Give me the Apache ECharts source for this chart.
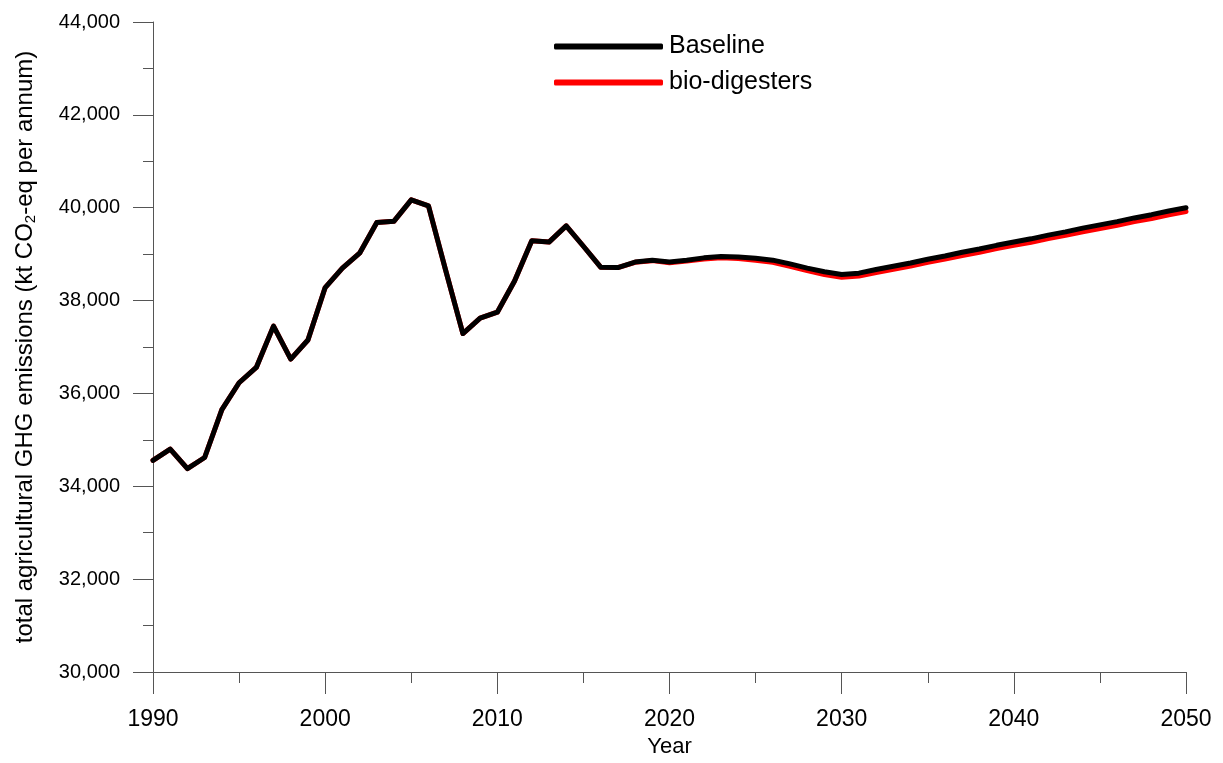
<!DOCTYPE html>
<html>
<head>
<meta charset="utf-8">
<script src="https://cdn.jsdelivr.net/npm/echarts@6/dist/echarts.min.js"></script>
<style>
html,body{margin:0;padding:0;background:#fff;}
#chart{width:1223px;height:763px;}
</style>
</head>
<body>
<div id="chart"></div>
<script>
const years = [1990,1991,1992,1993,1994,1995,1996,1997,1998,1999,2000,2001,2002,2003,2004,2005,2006,2007,2008,2009,2010,2011,2012,2013,2014,2015,2016,2017,2018,2019,2020,2021,2022,2023,2024,2025,2026,2027,2028,2029,2030,2031,2032,2033,2034,2035,2036,2037,2038,2039,2040,2041,2042,2043,2044,2045,2046,2047,2048,2049,2050];
const baseline = [34560,34800,34380,34620,35650,36230,36560,37450,36740,37150,38280,38700,39020,39680,39710,40170,40040,38650,37290,37620,37750,38420,39290,39260,39610,39170,38720,38710,38830,38870,38830,38870,38920,38950,38940,38910,38870,38790,38700,38620,38560,38590,38670,38740,38810,38890,38960,39040,39110,39190,39260,39330,39410,39480,39560,39630,39700,39780,39850,39930,40000];
const biodigesters = [34560,34800,34380,34620,35650,36230,36560,37450,36740,37150,38280,38700,39020,39680,39710,40170,40040,38650,37290,37620,37750,38420,39290,39260,39610,39170,38720,38710,38825,38860,38815,38850,38895,38920,38905,38870,38825,38740,38645,38562,38500,38528,38606,38675,38744,38823,38892,38971,39040,39119,39188,39257,39336,39404,39483,39552,39621,39700,39768,39847,39920];
const seriesNames = ['Baseline', 'bio-digesters'];
const yTitleStart = 'total agricultural GHG emissions (kt CO';
const yTitleSub = '2';
const yTitleEnd = '-eq per annum)';
const xTitle = 'Year';

const chart = echarts.init(document.getElementById('chart'));
const fontFamily = 'Liberation Sans, Arial, sans-serif';
const axisColor = '#555';
chart.setOption({
  animation: false,
  backgroundColor: '#fff',
  textStyle: {fontFamily: fontFamily, color: '#000'},
  grid: {left: 153, right: 37, top: 22, bottom: 85, containLabel: false},
  legend: {
    orient: 'vertical',
    left: 549,
    top: 29,
    data: seriesNames,
    icon: 'roundRect',
    itemWidth: 109,
    itemHeight: 6,
    itemGap: 11,
    textStyle: {fontSize: 25, color: '#000', fontFamily: fontFamily, padding: [0, 0, 0, 1]}
  },
  xAxis: {
    type: 'value',
    min: 1990, max: 2050, interval: 10,
    name: xTitle,
    nameLocation: 'middle',
    nameGap: 64,
    nameTextStyle: {fontSize: 22, color: '#000', fontFamily: fontFamily},
    axisLine: {show: true, lineStyle: {color: axisColor, width: 1}},
    axisTick: {show: true, inside: false, length: 22, lineStyle: {color: axisColor}},
    minorTick: {show: true, splitNumber: 2, length: 11, lineStyle: {color: axisColor}},
    splitLine: {show: false},
    axisLabel: {fontSize: 23, color: '#000', margin: 36, fontFamily: fontFamily,
      formatter: function (v) { return String(v); }}
  },
  yAxis: {
    type: 'value',
    min: 30000, max: 44000, interval: 2000,
    name: '{t|' + yTitleStart + '}{s|' + yTitleSub + '}{t|' + yTitleEnd + '}',
    nameLocation: 'middle',
    nameRotate: 90,
    nameGap: 115,
    nameTextStyle: {
      fontSize: 24, color: '#000', fontFamily: fontFamily,
      rich: {
        t: {fontSize: 24, color: '#000', fontFamily: fontFamily},
        s: {fontSize: 15, color: '#000', fontFamily: fontFamily, verticalAlign: 'bottom', padding: [10, 0, 0, 0]}
      }
    },
    axisLine: {show: true, lineStyle: {color: axisColor, width: 1}},
    axisTick: {show: true, inside: false, length: 20, lineStyle: {color: axisColor}},
    minorTick: {show: true, splitNumber: 2, length: 10, lineStyle: {color: axisColor}},
    splitLine: {show: false},
    axisLabel: {
      fontSize: 20, color: '#000', margin: 33, fontFamily: fontFamily,
      formatter: function (v) { return v.toLocaleString('en-US'); }
    }
  },
  series: [
    {
      name: seriesNames[1], type: 'line', z: 2,
      data: years.map((y, i) => [y, biodigesters[i]]),
      showSymbol: false, symbol: 'none',
      lineStyle: {color: '#ff0000', width: 5, cap: 'round', join: 'round'},
      itemStyle: {color: '#ff0000'}
    },
    {
      name: seriesNames[0], type: 'line', z: 3,
      data: years.map((y, i) => [y, baseline[i]]),
      showSymbol: false, symbol: 'none',
      lineStyle: {color: '#000000', width: 5, cap: 'round', join: 'round'},
      itemStyle: {color: '#000000'}
    }
  ]
});
</script>
</body>
</html>
